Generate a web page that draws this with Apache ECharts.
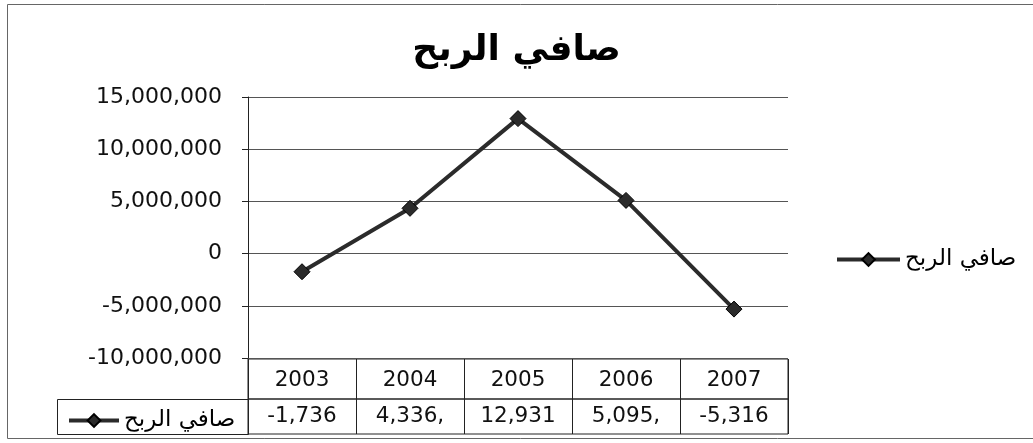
<!DOCTYPE html>
<html>
<head>
<meta charset="utf-8">
<script src="https://cdn.jsdelivr.net/npm/echarts@6/dist/echarts.min.js"></script>
<style>
  html, body { margin: 0; padding: 0; background: #fff; }
  #chart { width: 1033px; height: 443px; }
</style>
</head>
<body>
<div id="chart"></div>
<script>
// data
var seriesName = 'صافي الربح'
var years = ['2003', '2004', '2005', '2006', '2007']
var profit = [-1736000, 4336000, 12931000, 5095000, -5316000]
var yMin = -10000000
var yMax = 15000000
var yStep = 5000000

var ink = '#222'
var font = 'DejaVu Sans'

function fmt(v) {
  return v.toLocaleString('en-US')
}
// the data table cells cut the numbers after 6 characters
var tableLabels = profit.map(function (v) { return fmt(v).slice(0, 6) })

var chart = echarts.init(document.getElementById('chart'))

chart.setOption({
  animation: false,
  backgroundColor: '#fff',
  textStyle: { fontFamily: font },
  title: {
    text: seriesName,
    left: 'center',
    top: 28,
    textStyle: { fontFamily: font, fontSize: 36, fontWeight: 'bold', color: '#000' }
  },
  legend: [{
    data: [seriesName],
    left: 830,
    top: 243,
    itemWidth: 63,
    itemHeight: 16,
    itemGap: 4,
    lineStyle: { width: 4, color: '#2b2b2b' },
    textStyle: { fontFamily: font, fontSize: 23, color: '#000' }
  }, {
    data: [seriesName],
    left: 62,
    top: 404,
    itemWidth: 50,
    itemHeight: 16,
    lineStyle: { width: 4, color: '#2b2b2b' },
    textStyle: { fontFamily: font, fontSize: 23, color: '#000' }
  }],
  grid: [
    { left: 248, top: 97, width: 540, height: 261, outerBoundsMode: 'none' },
    { left: 248, top: 359, width: 540, height: 40, show: true, borderColor: ink, borderWidth: 1, outerBoundsMode: 'none' },
    { left: 248, top: 399, width: 540, height: 35, show: true, borderColor: ink, borderWidth: 1, outerBoundsMode: 'none' }
  ],
  xAxis: [{
    gridIndex: 0,
    type: 'category',
    data: years,
    boundaryGap: true,
    axisLine: { show: false },
    axisTick: { show: false },
    axisLabel: { show: false },
    splitLine: { show: false }
  }, {
    gridIndex: 1,
    type: 'category',
    data: years,
    position: 'top',
    axisLine: { show: false },
    axisTick: { show: false },
    axisLabel: { inside: true, margin: 21, verticalAlign: 'middle', fontSize: 21.5, color: '#111', fontFamily: font },
    splitLine: { show: true, interval: 0, lineStyle: { color: ink, width: 1 } }
  }, {
    gridIndex: 2,
    type: 'category',
    data: tableLabels,
    position: 'top',
    axisLine: { show: false },
    axisTick: { show: false },
    axisLabel: { inside: true, margin: 17, verticalAlign: 'middle', fontSize: 21.5, color: '#111', fontFamily: font },
    splitLine: { show: true, interval: 0, lineStyle: { color: ink, width: 1 } }
  }],
  yAxis: [{
    gridIndex: 0,
    type: 'value',
    min: yMin,
    max: yMax,
    interval: yStep,
    axisLine: { show: true, lineStyle: { color: ink, width: 1 } },
    axisTick: { show: true, length: 6, lineStyle: { color: ink } },
    axisLabel: { formatter: fmt, margin: 26, fontSize: 22, color: '#111', fontFamily: font },
    splitLine: { show: true, lineStyle: { color: '#555', width: 1 } }
  }, {
    gridIndex: 1, type: 'value', show: false
  }, {
    gridIndex: 2, type: 'value', show: false
  }],
  series: [{
    name: seriesName,
    type: 'line',
    xAxisIndex: 0,
    yAxisIndex: 0,
    data: profit,
    symbol: 'diamond',
    symbolSize: 16,
    lineStyle: { color: '#2b2b2b', width: 4 },
    itemStyle: { color: '#2b2b2b', borderColor: '#000', borderWidth: 1 }
  }],
  graphic: [{
    type: 'rect',
    shape: { x: 7.5, y: 4.5, width: 1040, height: 434 },
    style: { fill: 'none', stroke: '#666', lineWidth: 1 },
    silent: true
  }, {
    type: 'rect',
    shape: { x: 57.5, y: 399.5, width: 191, height: 35 },
    style: { fill: 'none', stroke: ink, lineWidth: 1 },
    silent: true
  }]
})
</script>
</body>
</html>
